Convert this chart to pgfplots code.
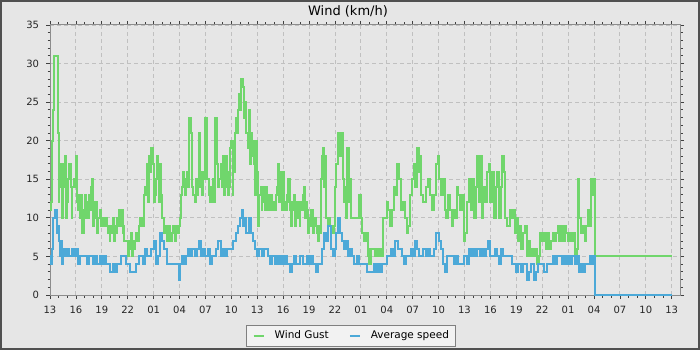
\documentclass[border=0pt]{standalone}
\usepackage{fontspec}
\setmainfont{DejaVu Sans}
\usepackage{pgfplots}
\usepackage{pgfplotstable}
\pgfplotsset{compat=1.18}
\definecolor{bgc}{RGB}{230,230,230}
\definecolor{gustc}{RGB}{112,214,108}
\definecolor{avgc}{RGB}{76,169,216}
\definecolor{gridc}{RGB}{192,192,192}
\definecolor{axisc}{RGB}{140,140,140}
\definecolor{framec}{RGB}{80,80,80}
\pgfplotstableread{
h v
0 11
0.15 12
0.25 20
0.4 24
0.5 31
0.75 31
0.9 21
1.0 12
1.1 14
1.25 17
1.4 10
1.5 14
1.6 17
1.75 18
1.9 10
2.0 12
2.1 15
2.25 17
2.4 14
2.5 10
2.6 14
2.75 15
2.9 14
3.0 18
3.15 12
3.25 11
3.4 13
3.5 10
3.6 13
3.75 8
3.9 11
4.0 13
4.15 10
4.25 12
4.4 10
4.5 13
4.6 11
4.75 14
4.9 15
5.0 9
5.15 12
5.25 10
5.4 12
5.5 8
5.6 10
5.75 11
5.9 9
6.0 10
6.15 9
6.25 10
6.4 9
6.5 10
6.6 9
6.75 8
6.9 7
7.0 9
7.15 8
7.25 10
7.4 7
7.5 9
7.6 8
7.75 10
7.9 9
8.0 11
8.15 9
8.25 11
8.4 8
8.5 9
8.6 7
8.75 7
8.9 7
9.0 5
9.15 7
9.25 6
9.4 8
9.5 5
9.6 7
9.75 6
9.9 7
10.0 8
10.15 7
10.25 9
10.4 10
10.5 9
10.6 10
10.75 9
10.9 13
11.0 14
11.15 13
11.25 17
11.4 12
11.5 18
11.6 16
11.75 19
11.9 17
12.0 12
12.15 13
12.25 15
12.4 18
12.5 15
12.6 12
12.75 17
12.9 13
13.0 10
13.15 9
13.25 8
13.4 9
13.5 8
13.6 7
13.75 9
13.9 8
14.0 7
14.15 8
14.25 9
14.4 8
14.5 7
14.6 9
14.75 8
14.9 9
15.0 10
15.15 13
15.25 14
15.4 16
15.5 15
15.6 13
15.75 14
15.9 16
16.0 14
16.15 23
16.3 21
16.4 15
16.5 14
16.6 13
16.75 12
16.9 15
17.0 13
17.15 14
17.25 21
17.4 16
17.5 14
17.6 13
17.75 16
17.9 15
18.0 23
18.2 15
18.4 13
18.5 12
18.6 14
18.75 12
18.9 15
19.0 12
19.15 23
19.3 17
19.4 16
19.5 14
19.6 15
19.75 17
19.9 14
20.0 18
20.15 13
20.25 14
20.4 18
20.5 16
20.6 13
20.75 14
20.9 19
21.0 20
21.15 13
21.25 16
21.4 21
21.5 23
21.6 21
21.75 24
21.9 26
22.0 24
22.1 28
22.3 27
22.45 23
22.6 25
22.75 21
22.9 19
23.0 24
23.15 17
23.25 21
23.4 18
23.5 20
23.6 17
23.75 13
23.9 20
24.0 16
24.1 9
24.25 13
24.4 14
24.5 11
24.6 14
24.75 12
24.9 11
25.0 14
25.15 11
25.25 13
25.4 12
25.5 11
25.6 13
25.75 11
25.9 12
26.0 11
26.15 13
26.25 14
26.4 17
26.5 12
26.6 16
26.75 13
26.9 11
27.0 16
27.15 12
27.25 11
27.4 13
27.5 12
27.6 15
27.75 11
27.9 9
28.0 12
28.15 11
28.25 13
28.4 9
28.5 11
28.6 12
28.75 10
28.9 9
29.0 12
29.15 11
29.25 13
29.4 14
29.5 10
29.6 12
29.75 11
29.9 8
30.0 10
30.15 9
30.25 11
30.4 9
30.5 8
30.6 10
30.75 9
30.9 8
31.0 7
31.15 9
31.25 8
31.4 15
31.5 18
31.6 19
31.75 14
31.9 18
32.0 10
32.15 9
32.25 10
32.4 9
32.5 8
32.6 9
32.75 8
32.9 9
33.0 14
33.15 17
33.3 21
33.45 19
33.6 18
33.75 21
33.9 15
34.0 12
34.15 14
34.3 10
34.45 19
34.6 12
34.75 15
34.9 10
35.0 10
35.8 13
36.0 10
36.1 8
36.4 7
36.6 8
36.8 5
36.9 6
37.0 4
37.2 6
37.45 6
37.6 5
37.8 6
38.0 5
38.25 6
38.5 5
38.6 10
38.8 10
39.0 12
39.2 11
39.4 9
39.6 11
39.8 14
40.0 13
40.2 17
40.45 15
40.7 11
40.9 12
41.1 10
41.3 8
41.5 9
41.7 13
41.9 15
42.1 17
42.3 14
42.5 19
42.7 16
42.9 18
43.0 13
43.25 12
43.5 14
43.75 15
44.0 13
44.25 11
44.5 13
44.7 17
44.9 18
45.1 15
45.3 13
45.5 15
45.7 11
45.9 10
46.1 13
46.3 11
46.5 9
46.7 11
46.9 10
47.1 14
47.3 13
47.5 11
47.7 13
47.9 7
48.1 8
48.3 12
48.5 15
48.7 11
48.9 15
49.1 10
49.3 14
49.5 18
49.7 12
49.9 18
50.0 10
50.2 14
50.4 12
50.6 16
50.8 17
51.0 12
51.2 16
51.4 10
51.6 14
51.8 16
52.0 10
52.2 14
52.35 18
52.55 16
52.7 10
52.9 9
53.1 9
53.3 11
53.5 10
53.7 11
53.85 8
54.0 10
54.2 7
54.4 9
54.6 6
54.8 8
55.0 9
55.2 5
55.4 7
55.6 5
55.8 6
56.0 5
56.2 6
56.4 4
56.6 5
56.8 8
57.0 7
57.2 8
57.4 6
57.6 8
57.8 6
58.0 7
58.2 8
58.4 7
58.6 8
58.8 9
59.0 7
59.2 9
59.4 7
59.6 9
59.8 8
60.0 7
60.2 8
60.4 7
60.6 8
60.8 5
61.0 6
61.1 15
61.3 10
61.5 8
61.7 9
61.9 7
62.1 9
62.3 11
62.5 9
62.65 15
62.85 13
63.0 15
63.06 5
72 5
}\gust
\pgfplotstableread{
h v
0 5
0.1 4
0.2 6
0.3 8
0.4 10
0.6 11
0.85 8
0.95 9
1.05 7
1.15 5
1.25 7
1.4 4
1.5 6
1.75 5
2.0 6
2.25 5
2.5 6
2.75 5
3.0 6
3.25 4
3.5 5
3.75 5
4.0 5
4.25 4
4.5 5
4.75 5
5.0 4
5.25 5
5.5 4
5.75 5
6.0 4
6.25 5
6.5 4
6.75 4
7.0 3
7.25 4
7.5 3
7.75 4
8.0 4
8.25 5
8.5 5
8.75 4
9.0 4
9.25 3
9.5 3
9.75 3
10.0 4
10.25 5
10.5 5
10.75 4
11.0 6
11.25 5
11.5 5
11.75 6
12.0 7
12.25 4
12.5 5
12.75 8
13.0 7
13.25 6
13.5 4
13.75 4
14.0 4
14.25 4
14.5 4
14.75 4
14.9 2
15.0 4
15.25 5
15.5 4
15.75 5
16.0 6
16.25 5
16.5 6
16.75 5
17.0 6
17.25 7
17.5 5
17.75 6
18.0 5
18.25 6
18.5 4
18.75 5
19.0 5
19.25 6
19.5 7
19.75 5
20.0 6
20.25 5
20.5 6
20.75 6
21.0 6
21.25 7
21.5 8
21.75 9
22.0 10
22.2 11
22.4 9
22.6 10
22.75 8
23.0 10
23.25 8
23.5 7
23.75 6
24.0 5
24.25 6
24.5 5
24.75 6
25.0 6
25.25 5
25.5 4
25.75 5
26.0 4
26.25 5
26.5 4
26.75 5
27.0 4
27.25 5
27.5 4
27.75 3
28.0 4
28.25 5
28.5 4
28.75 4
29.0 5
29.25 4
29.5 4
29.75 5
30.0 4
30.25 5
30.5 4
30.75 3
31.0 4
31.25 4
31.5 6
31.75 8
32.0 7
32.25 9
32.5 6
32.75 5
33.0 6
33.15 8
33.3 10
33.6 8
33.8 7
34.0 6
34.25 7
34.5 5
34.75 6
35.0 5
35.25 4
35.5 5
35.75 4
36.0 4
36.25 4
36.5 4
36.75 3
37.0 3
37.25 3
37.5 4
37.75 3
38.0 4
38.25 3
38.5 4
38.75 4
39.0 5
39.25 5
39.5 6
39.75 5
40.0 7
40.25 6
40.5 6
40.75 5
41.0 4
41.25 5
41.5 5
41.75 6
42.0 5
42.25 7
42.5 6
42.75 5
43.0 5
43.25 6
43.5 5
43.75 6
44.0 5
44.25 5
44.5 6
44.75 8
45.0 7
45.25 6
45.5 4
45.75 3
46.0 5
46.25 5
46.5 5
46.75 4
47.0 5
47.25 4
47.5 4
47.75 4
48.0 5
48.25 4
48.5 6
48.75 5
49.0 6
49.25 5
49.5 6
49.75 5
50.0 6
50.25 5
50.5 6
50.75 7
51.0 5
51.25 5
51.5 6
51.75 5
52.0 4
52.25 6
52.5 5
52.75 5
53.0 5
53.25 5
53.5 4
53.75 4
54.0 3
54.25 4
54.5 3
54.75 4
55.0 4
55.25 2
55.5 3
55.75 4
56.0 2
56.25 3
56.5 4
56.75 4
57.0 4
57.25 3
57.5 4
57.75 4
58.0 4
58.25 5
58.5 4
58.75 5
59.0 5
59.25 4
59.5 5
59.75 4
60.0 5
60.25 4
60.5 5
60.75 4
61.0 5
61.25 3
61.5 4
61.75 3
62.0 4
62.25 4
62.5 5
62.75 4
63.0 5
63.06 0
72 0
}\avg
\begin{document}
\begin{tikzpicture}
\path[use as bounding box] (0,0) rectangle (700pt,350pt);
\fill[bgc] (0,0) rectangle (700pt,350pt);
\begin{axis}[
  at={(50pt,55pt)}, anchor=south west,
  width=630pt, height=270pt, scale only axis,
  xmin=0, xmax=72.96, ymin=0, ymax=35,
  xtick={0,3,...,72},
  xticklabels={13,16,19,22,01,04,07,10,13,16,19,22,01,04,07,10,13,16,19,22,01,04,07,10,13},
  minor x tick num=2,
  ytick={0,5,...,35},
  minor y tick num=4,
  tick align=outside,
  major tick length=4pt, minor tick length=2.5pt,
  tick style={color=black!75, line width=0.8pt},
  axis line style={axisc, line width=1pt},
  xmajorgrids, ymajorgrids,
  major grid style={gridc, line width=0.9pt, dash pattern=on 4pt off 3pt},
  tick label style={font=\fontsize{10}{12}\selectfont, text=black!85},
  /pgf/number format/assume math mode=true,
  xticklabel style={inner sep=0pt, yshift=-7pt},
  yticklabel style={inner sep=0pt, xshift=-6.7pt},
  title={Wind (km/h)},
  title style={at={(0.473,1)}, anchor=base, yshift=3pt, font=\fontsize{13}{15}\selectfont, inner sep=0pt},
  legend columns=2,
  legend style={at={(0.4775,-0.1122)}, anchor=north, draw=black!50, fill=white!95!black,
    font=\fontsize{10.5}{12}\selectfont, inner xsep=6pt, inner ysep=5.5pt,
    nodes={inner sep=0pt},
    /tikz/every odd column/.append style={column sep=10pt},
    /tikz/every even column/.append style={column sep=20pt}},
  legend image code/.code={\draw[#1] (0pt,0pt) -- (10pt,0pt);},
  axis background/.style={fill=bgc},
]
\addplot[gustc, line width=2pt, const plot] table {\gust};
\addlegendentry{Wind Gust}
\addplot[avgc, line width=2pt, const plot] table {\avg};
\addlegendentry{Average speed}
\end{axis}
\draw[framec, line width=2pt] (1pt,1pt) rectangle (699pt,349pt);
\end{tikzpicture}
\end{document}
